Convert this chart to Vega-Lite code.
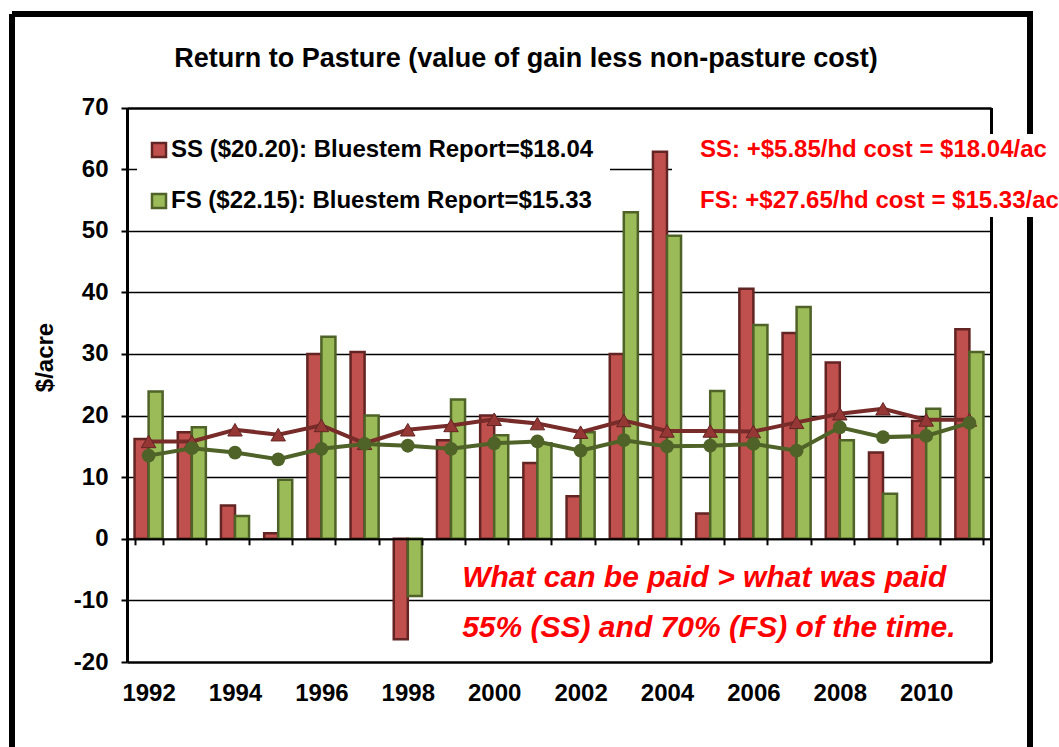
{
  "$schema": "https://vega.github.io/schema/vega-lite/v6.json",
  "width": 1018,
  "height": 733,
  "autosize": {"type": "none"},
  "padding": {"left": 12, "top": 14, "right": 29, "bottom": 0},
  "background": "white",
  "config": {
    "font": "Liberation Sans",
    "view": {"stroke": "black", "strokeWidth": 6, "strokeDash": [1751, 1018, 733, 0], "fill": "white"}
  },
  "title": {
    "text": "Return to Pasture (value of gain less non-pasture cost)",
    "fontSize": 27,
    "fontWeight": "bold",
    "color": "black",
    "anchor": "middle",
    "frame": "group",
    "offset": -72,
    "baseline": "middle",
    "dx": 5
  },
  "datasets": {
    "main": [
      {"year": 1992, "series": "SS", "ret": 16.2, "avg": 15.8},
      {"year": 1992, "series": "FS", "ret": 23.9, "avg": 13.5},
      {"year": 1993, "series": "SS", "ret": 17.3, "avg": 15.8},
      {"year": 1993, "series": "FS", "ret": 18.1, "avg": 14.7},
      {"year": 1994, "series": "SS", "ret": 5.4, "avg": 17.7},
      {"year": 1994, "series": "FS", "ret": 3.7, "avg": 14.0},
      {"year": 1995, "series": "SS", "ret": 0.9, "avg": 16.9},
      {"year": 1995, "series": "FS", "ret": 9.6, "avg": 12.9},
      {"year": 1996, "series": "SS", "ret": 30.0, "avg": 18.4},
      {"year": 1996, "series": "FS", "ret": 32.8, "avg": 14.6},
      {"year": 1997, "series": "SS", "ret": 30.3, "avg": 15.5},
      {"year": 1997, "series": "FS", "ret": 20.0, "avg": 15.4},
      {"year": 1998, "series": "SS", "ret": -16.3, "avg": 17.7},
      {"year": 1998, "series": "FS", "ret": -9.3, "avg": 15.1},
      {"year": 1999, "series": "SS", "ret": 16.0, "avg": 18.4},
      {"year": 1999, "series": "FS", "ret": 22.6, "avg": 14.6},
      {"year": 2000, "series": "SS", "ret": 20.0, "avg": 19.4},
      {"year": 2000, "series": "FS", "ret": 16.8, "avg": 15.5},
      {"year": 2001, "series": "SS", "ret": 12.3, "avg": 18.7},
      {"year": 2001, "series": "FS", "ret": 15.5, "avg": 15.8},
      {"year": 2002, "series": "SS", "ret": 6.9, "avg": 17.3},
      {"year": 2002, "series": "FS", "ret": 17.3, "avg": 14.3},
      {"year": 2003, "series": "SS", "ret": 30.0, "avg": 19.2},
      {"year": 2003, "series": "FS", "ret": 53.0, "avg": 16.0},
      {"year": 2004, "series": "SS", "ret": 62.8, "avg": 17.5},
      {"year": 2004, "series": "FS", "ret": 49.2, "avg": 15.0},
      {"year": 2005, "series": "SS", "ret": 4.1, "avg": 17.5},
      {"year": 2005, "series": "FS", "ret": 24.0, "avg": 15.1},
      {"year": 2006, "series": "SS", "ret": 40.6, "avg": 17.4},
      {"year": 2006, "series": "FS", "ret": 34.7, "avg": 15.4},
      {"year": 2007, "series": "SS", "ret": 33.4, "avg": 18.9},
      {"year": 2007, "series": "FS", "ret": 37.6, "avg": 14.3},
      {"year": 2008, "series": "SS", "ret": 28.6, "avg": 20.3},
      {"year": 2008, "series": "FS", "ret": 16.0, "avg": 18.1},
      {"year": 2009, "series": "SS", "ret": 14.0, "avg": 21.1},
      {"year": 2009, "series": "FS", "ret": 7.3, "avg": 16.5},
      {"year": 2010, "series": "SS", "ret": 19.1, "avg": 19.3},
      {"year": 2010, "series": "FS", "ret": 21.1, "avg": 16.7},
      {"year": 2011, "series": "SS", "ret": 34.0, "avg": 19.3},
      {"year": 2011, "series": "FS", "ret": 30.3, "avg": 18.8}
    ],
    "notes": [
      {"year": 2000, "yv": -6.4, "label": "What can be paid > what was paid"},
      {"year": 2000, "yv": -14.5, "label": "55% (SS) and 70% (FS) of the time."}
    ],
    "costs": [
      {"note": "SS: +$5.85/hd cost = $18.04/ac"},
      {"note": "FS: +$27.65/hd cost = $15.33/ac"}
    ]
  },
  "layer": [
    {
      "data": {"name": "main"},
      "mark": {"type": "bar", "strokeWidth": 2.5},
      "encoding": {
        "x": {
          "field": "year", "type": "ordinal",
          "scale": {"range": [115, 979], "paddingInner": 0.35, "paddingOuter": 0.175},
          "axis": {
            "title": null, "orient": "bottom", "offset": -208.2,
            "domainColor": "black", "domainWidth": 2,
            "tickColor": "black", "tickWidth": 2, "tickSize": 6, "tickBand": "extent",
            "labelExpr": "datum.value % 2 == 0 ? datum.label : ''",
            "labelAngle": 0, "labelFontSize": 24, "labelFontWeight": "bold", "labelColor": "black",
            "labelPadding": 137, "labelOverlap": false, "grid": false, "zindex": 1
          }
        },
        "xOffset": {"field": "series", "type": "nominal", "scale": {"domain": ["SS", "FS"]}},
        "y": {
          "field": "ret", "type": "quantitative",
          "scale": {"domain": [-20, 70], "nice": false, "range": [648, 93.5]},
          "axis": {
            "title": "$/acre", "orient": "left", "offset": -115,
            "values": [-20, -10, 0, 10, 20, 30, 40, 50, 60, 70],
            "labelExpr": "'' + datum.value",
            "domainColor": "black", "domainWidth": 3,
            "tickColor": "black", "tickWidth": 2, "tickSize": 6,
            "labelFontSize": 24, "labelFontWeight": "bold", "labelColor": "black", "labelPadding": 13,
            "grid": true, "gridColor": "black",
            "gridWidth": {"condition": {"test": "datum.value == -20 || datum.value == 70", "value": 2.6}, "value": 1.3},
            "titleFontSize": 24, "titleFontWeight": "bold", "titleColor": "black",
            "titleAngle": -90, "titleX": -82, "titleY": 343, "titleAlign": "center", "titleBaseline": "middle"
          }
        },
        "fill": {
          "field": "series", "type": "nominal",
          "scale": {"domain": ["SS", "FS"], "range": ["#C0504D", "#9BBB59"]},
          "legend": {
            "title": null, "orient": "none", "legendX": 125, "legendY": 114, "direction": "vertical",
            "labelFontSize": 24, "labelFontWeight": "bold", "labelColor": "black", "labelLimit": 1000,
            "labelOffset": 0, "rowPadding": 27, "padding": 10, "fillColor": "white",
            "symbolSize": 196, "symbolStrokeWidth": 2.5, "symbolType": "square",
            "labelExpr": "datum.value == 'SS' ? 'SS ($20.20):  Bluestem Report=$18.04' : 'FS ($22.15):  Bluestem Report=$15.33'"
          }
        },
        "stroke": {
          "field": "series", "type": "nominal",
          "scale": {"domain": ["SS", "FS"], "range": ["#632523", "#4F6228"]},
          "legend": {
            "title": null, "orient": "none", "legendX": 125, "legendY": 114, "direction": "vertical",
            "labelFontSize": 24, "labelFontWeight": "bold", "labelColor": "black", "labelLimit": 1000,
            "labelOffset": 0, "rowPadding": 27, "padding": 10, "fillColor": "white",
            "symbolSize": 196, "symbolStrokeWidth": 2.5, "symbolType": "square",
            "labelExpr": "datum.value == 'SS' ? 'SS ($20.20):  Bluestem Report=$18.04' : 'FS ($22.15):  Bluestem Report=$15.33'"
          }
        }
      }
    },
    {
      "data": {"name": "main"},
      "transform": [{"filter": "datum.series == 'SS'"}],
      "mark": {"type": "line", "color": "#772C2A", "strokeWidth": 4},
      "encoding": {
        "x": {"field": "year", "type": "ordinal"},
        "y": {
          "field": "avg", "type": "quantitative",
          "axis": {"orient": "right", "offset": -39, "title": null, "labels": false, "ticks": false, "grid": false, "domain": true, "domainColor": "black", "domainWidth": 3}
        }
      }
    },
    {
      "data": {"name": "main"},
      "transform": [{"filter": "datum.series == 'SS'"}],
      "mark": {"type": "point", "shape": "triangle-up", "filled": true, "size": 210, "fill": "#953735", "stroke": "#632523", "strokeWidth": 1, "opacity": 1},
      "encoding": {
        "x": {"field": "year", "type": "ordinal"},
        "y": {"field": "avg", "type": "quantitative", "axis": null}
      }
    },
    {
      "data": {"name": "main"},
      "transform": [{"filter": "datum.series == 'FS'"}],
      "mark": {"type": "line", "color": "#4F6228", "strokeWidth": 4},
      "encoding": {
        "x": {"field": "year", "type": "ordinal"},
        "y": {"field": "avg", "type": "quantitative", "axis": null}
      }
    },
    {
      "data": {"name": "main"},
      "transform": [{"filter": "datum.series == 'FS'"}],
      "mark": {"type": "point", "shape": "circle", "filled": true, "size": 190, "fill": "#4F6228", "opacity": 1},
      "encoding": {
        "x": {"field": "year", "type": "ordinal"},
        "y": {"field": "avg", "type": "quantitative", "axis": null}
      }
    },
    {
      "data": {"name": "notes"},
      "mark": {"type": "text", "align": "left", "baseline": "middle", "color": "#FF0000", "fontSize": 30, "fontWeight": "bold", "fontStyle": "italic", "dx": -18},
      "encoding": {
        "x": {"field": "year", "type": "ordinal", "bandPosition": 0},
        "y": {"field": "yv", "type": "quantitative", "axis": null},
        "text": {"field": "label"}
      }
    },
    {
      "data": {"name": "costs"},
      "mark": {"type": "point", "opacity": 0},
      "encoding": {
        "shape": {
          "field": "note", "type": "nominal",
          "scale": {"domain": ["SS: +$5.85/hd cost = $18.04/ac", "FS: +$27.65/hd cost = $15.33/ac"]},
          "legend": {
            "title": null, "orient": "none", "legendX": 660, "legendY": 120, "direction": "vertical",
            "labelFontSize": 24, "labelFontWeight": "bold", "labelColor": "#FF0000", "labelLimit": 1000,
            "labelOffset": 0, "rowPadding": 27, "padding": 4, "fillColor": "white",
            "symbolSize": 0, "symbolOpacity": 0, "symbolStrokeWidth": 0
          }
        }
      }
    }
  ],
  "resolve": {"axis": {"y": "independent"}}
}
